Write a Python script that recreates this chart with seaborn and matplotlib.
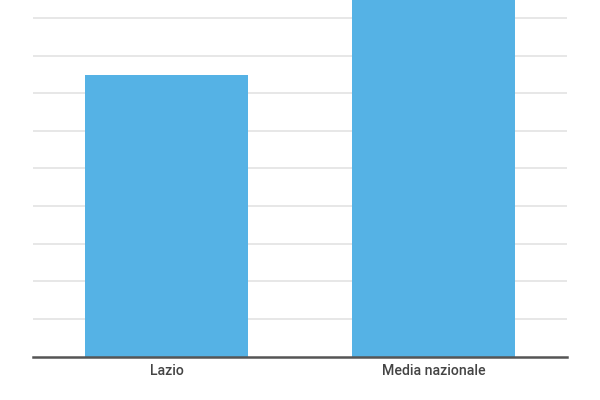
import matplotlib
matplotlib.use("Agg")
import matplotlib.pyplot as plt
import seaborn as sns
import pandas as pd

categories = ["Lazio", "Media nazionale"]
values = [74.8, 100.0]

sns.set_theme(style="white")
plt.rcParams['font.family'] = ['Roboto', 'DejaVu Sans']

df = pd.DataFrame({"cat": categories, "val": values})

fig = plt.figure(figsize=(6, 4), dpi=100)
ax = fig.add_axes([0.055, 0.10875, 0.89, 0.89125])
sns.barplot(data=df, x="cat", y="val", color="#55b2e5", saturation=1, width=0.612, ax=ax, zorder=3)
ax.set_xlim(-0.5, 1.5)
ax.set_ylim(0, 94.8)
ax.set_yticks([10, 20, 30, 40, 50, 60, 70, 80, 90])
ax.yaxis.grid(True, color="#e3e3e3", linewidth=1.2, zorder=0)
ax.set_axisbelow(True)
ax.tick_params(axis="y", length=0, labelleft=False)
ax.tick_params(axis="x", length=0, pad=5.5, labelsize=10.2, labelcolor="#444444")
for lbl in ax.get_xticklabels():
    lbl.set_fontweight("medium")
ax.set_xlabel("")
ax.set_ylabel("")
for s in ["top", "right", "left"]:
    ax.spines[s].set_visible(False)
ax.spines["bottom"].set_color("#555555")
ax.spines["bottom"].set_linewidth(1.8)
ax.spines["bottom"].set_zorder(5)
for p in ax.patches:
    p.set_edgecolor("none")
fig.savefig("out.png", dpi=100)
